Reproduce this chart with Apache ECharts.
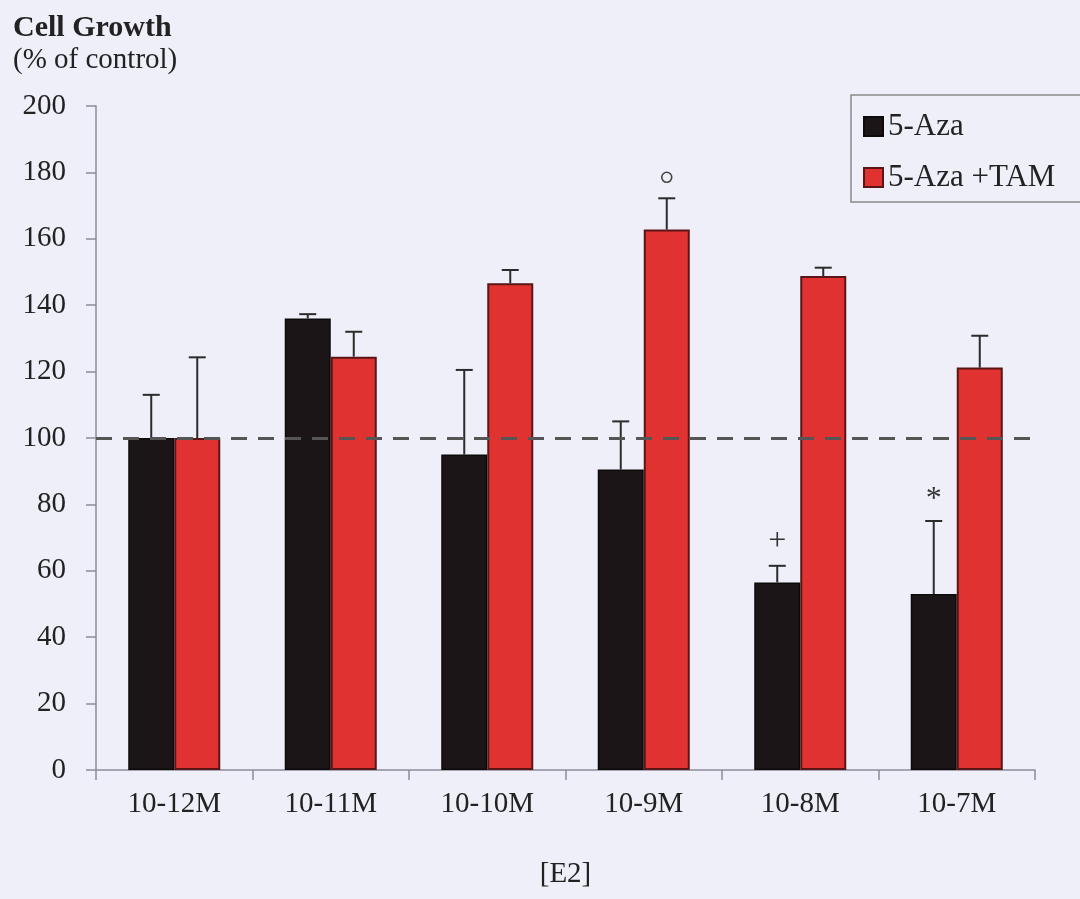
<!DOCTYPE html>
<html>
<head>
<meta charset="utf-8">
<title>Cell Growth</title>
<script src="https://cdn.jsdelivr.net/npm/echarts@6/dist/echarts.min.js"></script>
<style>
  html, body { margin: 0; padding: 0; background: #efeff9; }
  #chart { width: 1080px; height: 899px; }
</style>
</head>
<body>
<div id="chart"></div>
<script>
// E2 concentrations on the x axis
const categories = ['10-12M', '10-11M', '10-10M', '10-9M', '10-8M', '10-7M'];

// 5-Aza alone: mean cell growth (% of control) and upper error
const azaValues = [100, 136, 95, 90.5, 56.5, 53];
const azaErrors = [13, 1.3, 25.5, 14.5, 5, 22];
const azaMarks = ['', '', '', '', '+', '*'];

// 5-Aza + tamoxifen
const azaTamValues = [100, 124.5, 146.6, 162.8, 148.8, 121.2];
const azaTamErrors = [24.3, 7.5, 4, 9.4, 2.5, 9.6];
const azaTamMarks = ['', '', '', 'o', '', ''];

const yMin = 0, yMax = 200, yStep = 20;
const controlLevel = 100;

const FONT = '"Liberation Serif", "Times New Roman", serif';
const BAR_FRAC = 0.294;          // bar width as a share of the category band
const INK = '#2b2b2b';

function errorRenderer(side, marks) {
  return function (params, api) {
    const i = api.value(0);
    const v = api.value(1);
    const e = api.value(2);
    const band = api.size([1, 0])[0];
    const bw = band * BAR_FRAC;
    const base = api.coord([i, v]);
    const top = api.coord([i, v + e]);
    const x = base[0] + side * bw / 2;
    const capHalf = 8.5;
    const children = [
      { type: 'line', shape: { x1: x, y1: base[1], x2: x, y2: top[1] },
        style: { stroke: INK, lineWidth: 2 } },
      { type: 'line', shape: { x1: x - capHalf, y1: top[1], x2: x + capHalf, y2: top[1] },
        style: { stroke: INK, lineWidth: 2 } }
    ];
    const m = marks[params.dataIndex];
    if (m === 'o') {
      children.push({ type: 'circle', shape: { cx: x, cy: top[1] - 21, r: 5 },
        style: { fill: 'none', stroke: '#444', lineWidth: 1.6 } });
    } else if (m) {
      children.push({ type: 'text',
        style: { text: m, x: x, y: top[1] - (m === '*' ? 5 : 8),
          align: 'center', verticalAlign: 'bottom',
          font: '32px ' + FONT, fill: '#333' } });
    }
    return { type: 'group', children: children };
  };
}

const chart = echarts.init(document.getElementById('chart'), null, { renderer: 'canvas' });

chart.setOption({
  backgroundColor: '#efeff9',
  animation: false,
  title: {
    text: 'Cell Growth',
    subtext: '(% of control)',
    left: 13, top: 13, padding: 0, itemGap: 3,
    textStyle: { fontFamily: FONT, fontSize: 30, fontWeight: 'bold', color: '#222' },
    subtextStyle: { fontFamily: FONT, fontSize: 29, color: '#222' }
  },
  legend: {
    data: ['5-Aza', '5-Aza +TAM'],
    orient: 'vertical',
    left: 851, top: 95,
    padding: [16, 30, 9, 12],
    itemWidth: 19, itemHeight: 19, itemGap: 20,
    icon: 'rect',
    borderColor: '#8a8a8a', borderWidth: 1.5,
    textStyle: { fontFamily: FONT, fontSize: 31, color: '#222' }
  },
  grid: { left: 96, right: 45, top: 106, bottom: 129, outerBoundsMode: 'none' },
  xAxis: {
    type: 'category',
    data: categories,
    name: '[E2]',
    nameLocation: 'middle',
    nameGap: 90,
    nameTextStyle: { fontFamily: FONT, fontSize: 29, color: '#222' },
    axisLine: { lineStyle: { color: '#8c8c9a', width: 1.5 } },
    axisTick: { show: true, length: 10, lineStyle: { color: '#8c8c9a', width: 1.5 } },
    axisLabel: { fontFamily: FONT, fontSize: 29, color: '#222', margin: 20 }
  },
  yAxis: {
    type: 'value',
    min: yMin, max: yMax, interval: yStep,
    axisLine: { show: true, lineStyle: { color: '#8c8c9a', width: 1.5 } },
    axisTick: { show: true, length: 10, lineStyle: { color: '#8c8c9a', width: 1.5 } },
    axisLabel: { fontFamily: FONT, fontSize: 29, color: '#222', margin: 30 },
    splitLine: { show: false }
  },
  series: [
    {
      // control reference line behind the bars
      type: 'line',
      data: [],
      z: 1,
      silent: true,
      markLine: {
        symbol: 'none',
        silent: true,
        label: { show: false },
        lineStyle: { color: '#555', width: 3, type: [16, 11] },
        data: [{ yAxis: controlLevel }]
      }
    },
    {
      name: '5-Aza',
      type: 'bar',
      data: azaValues,
      barWidth: (BAR_FRAC * 100) + '%',
      barGap: '0%',
      z: 2,
      itemStyle: { color: '#1c1517', borderColor: '#0d0a0b', borderWidth: 1.5 }
    },
    {
      name: '5-Aza +TAM',
      type: 'bar',
      data: azaTamValues,
      barWidth: (BAR_FRAC * 100) + '%',
      barGap: '0%',
      z: 2,
      itemStyle: { color: '#e03331', borderColor: '#5a1616', borderWidth: 2 }
    },
    {
      type: 'custom',
      z: 4,
      silent: true,
      encode: { x: 0, y: 1 },
      data: azaValues.map((v, i) => [i, v, azaErrors[i]]),
      renderItem: errorRenderer(-1, azaMarks)
    },
    {
      type: 'custom',
      z: 4,
      silent: true,
      encode: { x: 0, y: 1 },
      data: azaTamValues.map((v, i) => [i, v, azaTamErrors[i]]),
      renderItem: errorRenderer(1, azaTamMarks)
    }
  ]
});
</script>
</body>
</html>
